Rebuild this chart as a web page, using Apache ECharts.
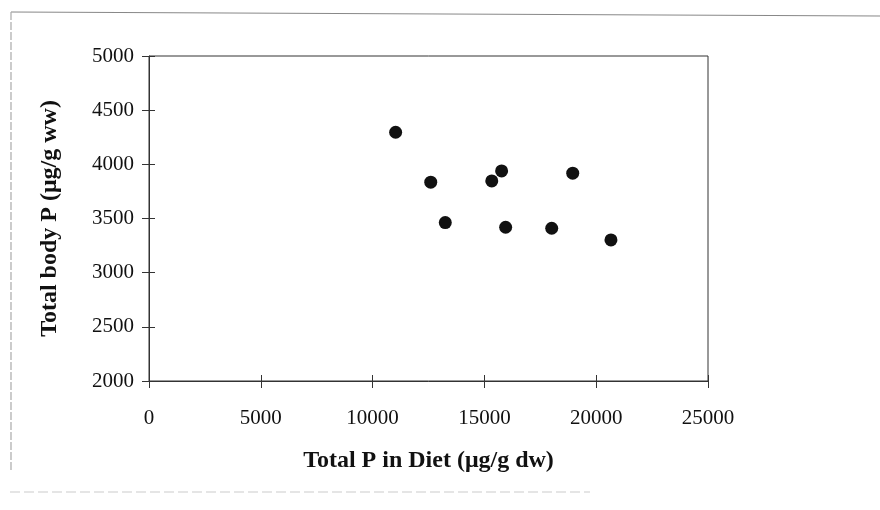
<!DOCTYPE html>
<html>
<head>
<meta charset="utf-8">
<script src="https://cdn.jsdelivr.net/npm/echarts@6/dist/echarts.min.js"></script>
<style>html,body{margin:0;padding:0;background:#fff}#c{width:880px;height:510px}</style>
</head>
<body>
<div id="c"></div>
<script>
const dietP = [11030, 12600, 13250, 15330, 15770, 15950, 18010, 18950, 20660];
const bodyP = [4296, 3835, 3462, 3847, 3939, 3419, 3410, 3918, 3302];
const xTitle = 'Total P in Diet (\u03bcg/g dw)';
const yTitle = 'Total body P (\u03bcg/g ww)';

const FONT = '"Liberation Serif", "Times New Roman", serif';
const points = dietP.map((x, i) => [x, bodyP[i]]);
const plain = v => String(v);
const chart = echarts.init(document.getElementById('c'));
const axisCommonX = { type: 'value', min: 0, max: 25000, interval: 5000, position: 'bottom', splitLine: { show: false } };
const axisCommonY = { type: 'value', min: 2000, max: 5000, interval: 500, position: 'left', splitLine: { show: false } };
chart.setOption({
  animation: false,
  backgroundColor: '#fff',
  grid: { left: 149, right: 172, top: 56, bottom: 129, show: true, borderColor: '#333', borderWidth: 1 },
  xAxis: [
    Object.assign({}, axisCommonX, {
      name: xTitle, nameLocation: 'middle', nameGap: 68,
      nameTextStyle: { fontFamily: FONT, fontWeight: 'bold', fontSize: 24, color: '#111' },
      axisLine: { show: true, lineStyle: { color: '#333', width: 1 } },
      axisTick: { show: true, inside: false, length: 7, lineStyle: { color: '#333' } },
      axisLabel: { fontFamily: FONT, fontSize: 21, color: '#111', margin: 27, formatter: plain }
    }),
    Object.assign({}, axisCommonX, {
      axisLine: { show: false },
      axisTick: { show: true, inside: true, length: 6, lineStyle: { color: '#333' } },
      axisLabel: { show: false }
    })
  ],
  yAxis: [
    Object.assign({}, axisCommonY, {
      name: yTitle, nameLocation: 'middle', nameGap: 87, nameRotate: 90,
      nameTextStyle: { fontFamily: FONT, fontWeight: 'bold', fontSize: 24, color: '#111' },
      axisLine: { show: true, lineStyle: { color: '#333', width: 1 } },
      axisTick: { show: true, inside: false, length: 7, lineStyle: { color: '#333' } },
      axisLabel: { fontFamily: FONT, fontSize: 21, color: '#111', margin: 15, formatter: plain }
    }),
    Object.assign({}, axisCommonY, {
      axisLine: { show: false },
      axisTick: { show: true, inside: true, length: 6, lineStyle: { color: '#333' } },
      axisLabel: { show: false }
    })
  ],
  series: [{
    type: 'scatter',
    data: points,
    symbol: 'circle',
    symbolSize: 13,
    itemStyle: { color: '#111', opacity: 1 }
  }],
  graphic: [
    { type: 'line', shape: { x1: 11, y1: 12, x2: 880, y2: 16 }, style: { stroke: '#888', lineWidth: 1.2 } },
    { type: 'line', shape: { x1: 11, y1: 12, x2: 11, y2: 470 }, style: { stroke: '#aaa', lineWidth: 1.2, lineDash: [8, 2] } },
    { type: 'line', shape: { x1: 10, y1: 492, x2: 590, y2: 492 }, style: { stroke: '#ccc', lineWidth: 1.2, lineDash: [10, 4] } }
  ]
});
</script>
</body>
</html>
